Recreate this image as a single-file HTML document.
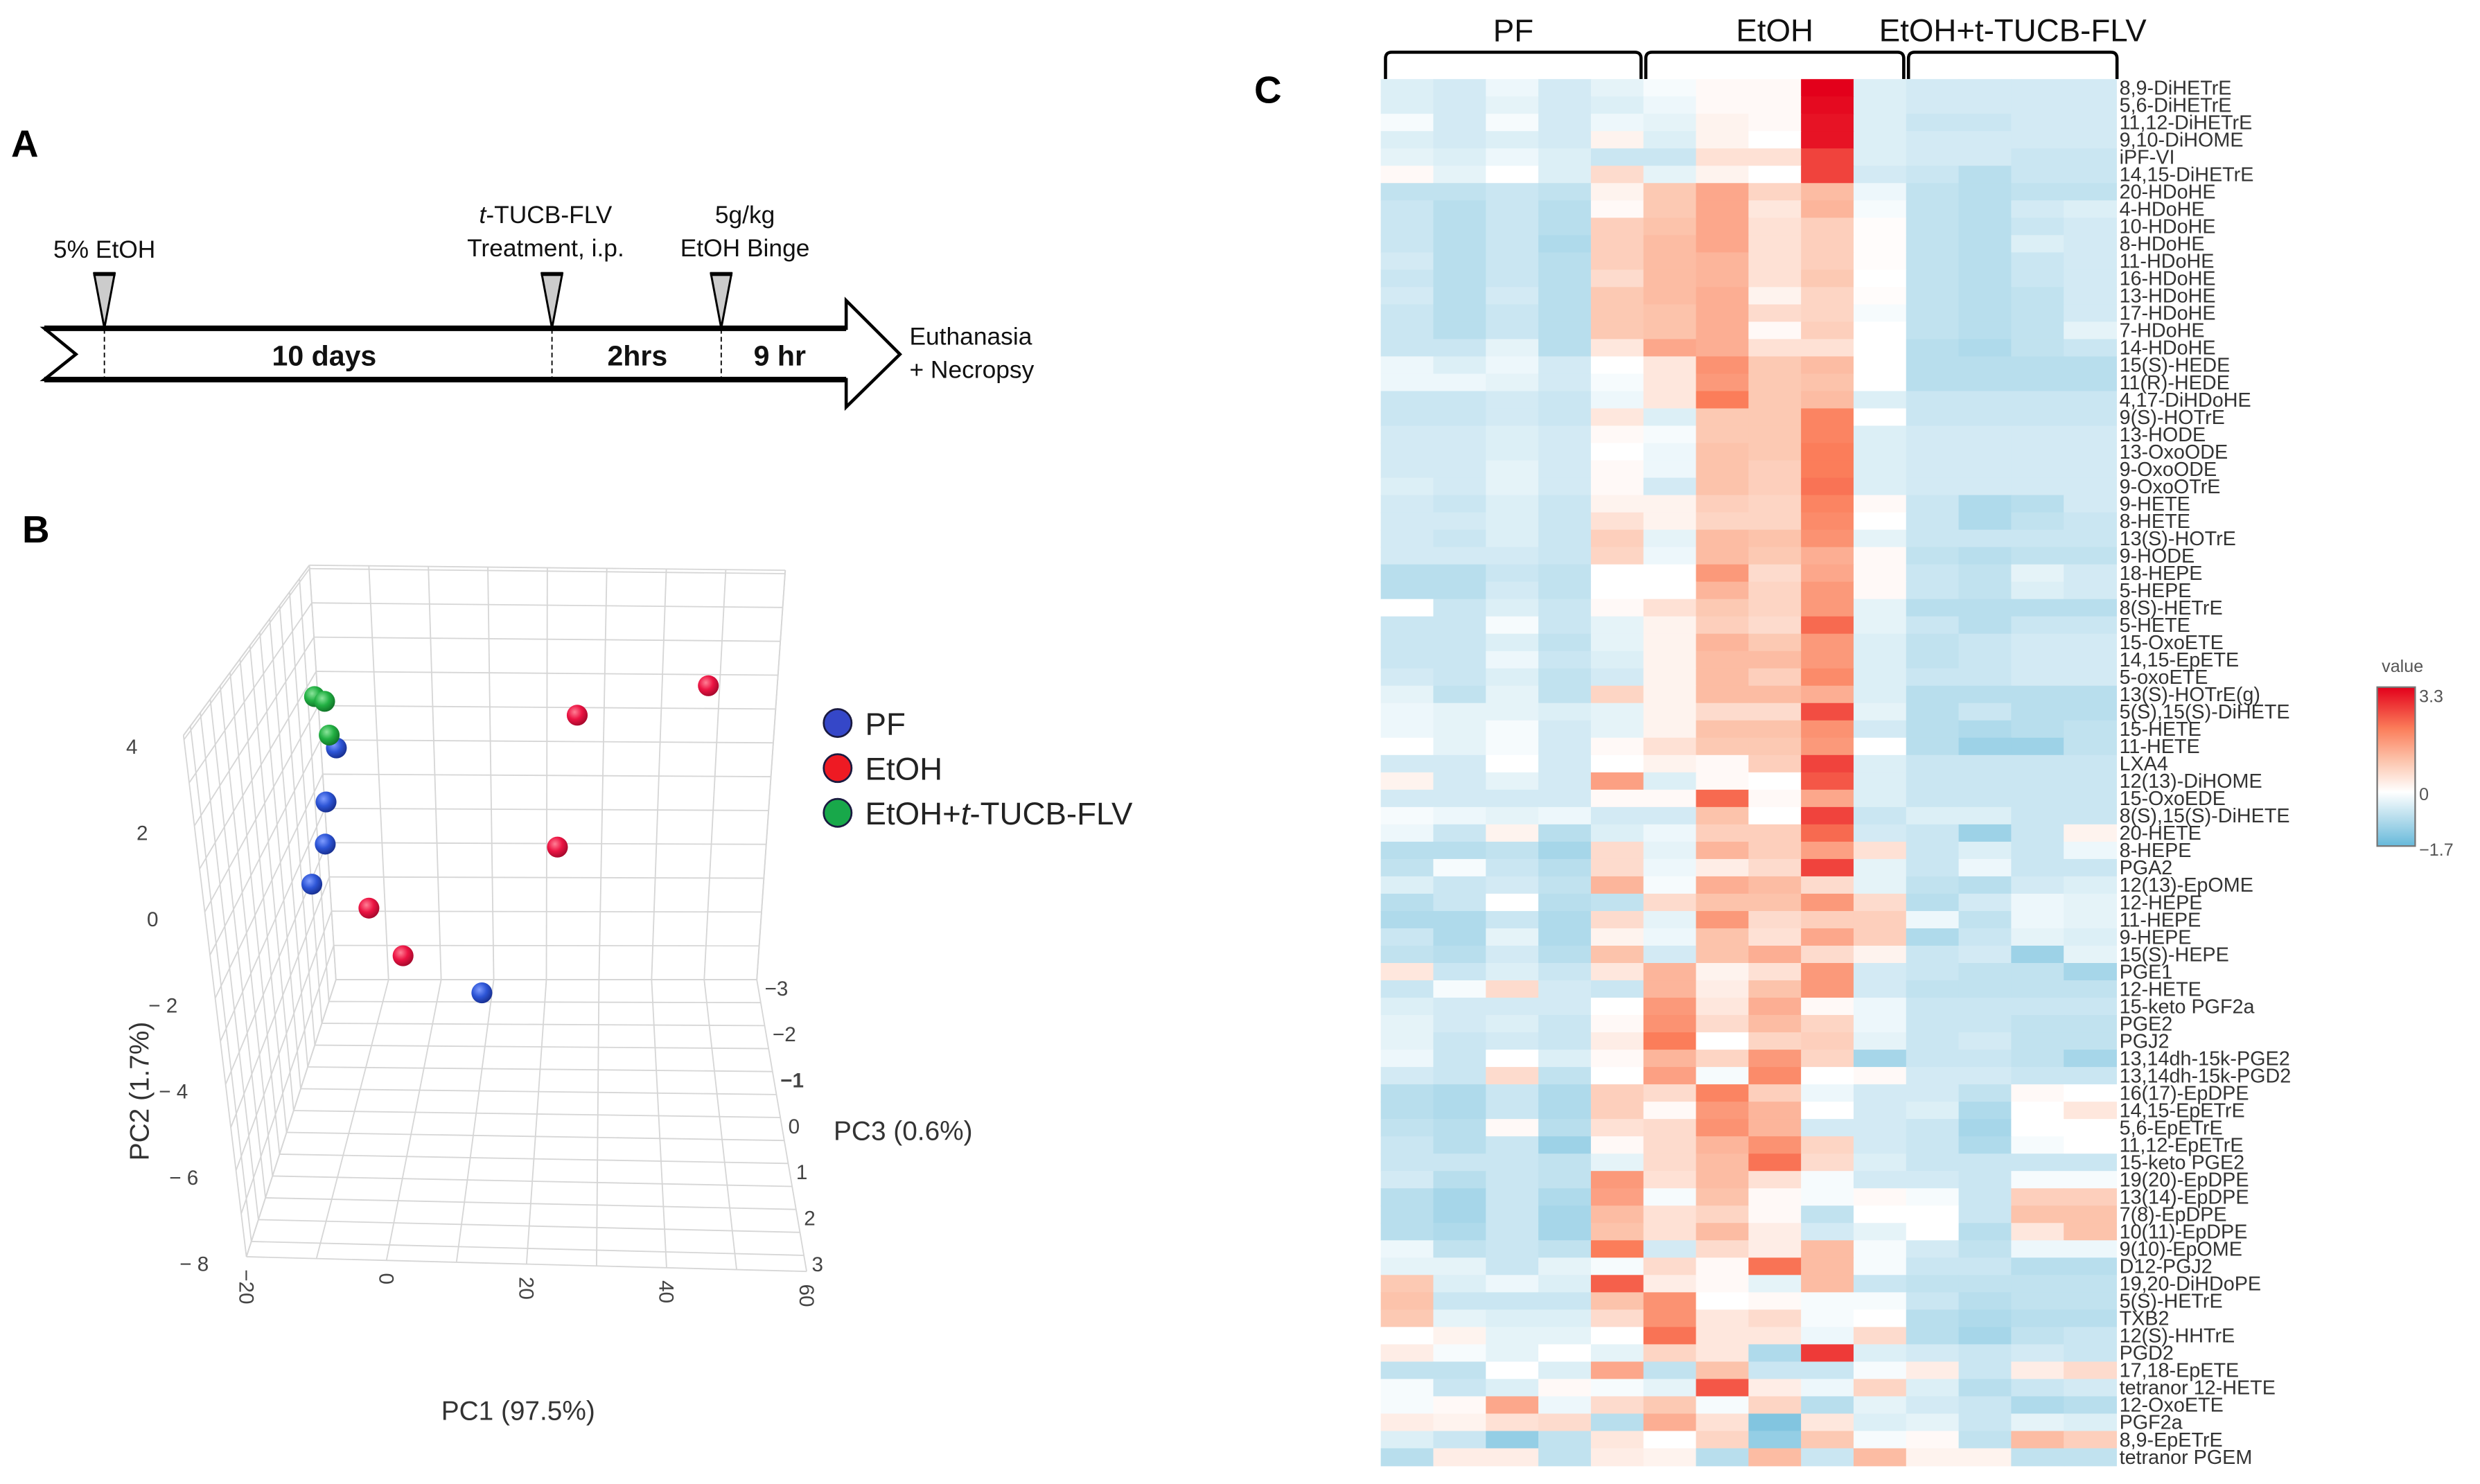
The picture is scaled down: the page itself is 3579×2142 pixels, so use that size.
<!DOCTYPE html>
<html><head><meta charset="utf-8"><style>
html,body{margin:0;padding:0;background:#fff;}
svg{display:block;}
.n{font-family:"Liberation Sans Narrow","Liberation Sans",sans-serif;}
.s{font-family:"Liberation Sans",sans-serif;}
</style></head><body>
<svg id="fig" width="3579" height="2142" viewBox="0 0 1568 938.4" xmlns="http://www.w3.org/2000/svg">
<defs>
<radialGradient id="gB" cx="0.38" cy="0.35" r="0.7"><stop offset="0" stop-color="#7f9cff"/><stop offset="0.5" stop-color="#2d55d6"/><stop offset="1" stop-color="#162c8a"/></radialGradient>
<radialGradient id="gR" cx="0.38" cy="0.35" r="0.7"><stop offset="0" stop-color="#ff7f95"/><stop offset="0.5" stop-color="#ec1443"/><stop offset="1" stop-color="#a0072a"/></radialGradient>
<radialGradient id="gG" cx="0.38" cy="0.35" r="0.7"><stop offset="0" stop-color="#8be59b"/><stop offset="0.5" stop-color="#22b043"/><stop offset="1" stop-color="#0f6e25"/></radialGradient>
<linearGradient id="cbar" x1="0" y1="1" x2="0" y2="0">
<stop offset="0" stop-color="#66b9da"/><stop offset="0.17" stop-color="#b4dcec"/><stop offset="0.34" stop-color="#ffffff"/><stop offset="0.54" stop-color="#fcc3ab"/><stop offset="0.74" stop-color="#fb7d5a"/><stop offset="1" stop-color="#e3001b"/>
</linearGradient>
</defs>

<!-- Panel A -->
<g>
<text x="7" y="99" class="s" font-size="24" font-weight="bold">A</text>
<path d="M28,207.6 L535,207.6 L535,190 L569,224 L535,257.4 L535,240 L28,240 L48,224 Z" fill="#fff" stroke="#000" stroke-width="2" stroke-linejoin="miter"/>
<line x1="28" y1="207.6" x2="535" y2="207.6" stroke="#000" stroke-width="3.5"/>
<line x1="28" y1="240" x2="535" y2="240" stroke="#000" stroke-width="3.5"/>
<g stroke="#000" stroke-width="0.8" stroke-dasharray="3,2">
<line x1="66" y1="208" x2="66" y2="240"/><line x1="349" y1="208" x2="349" y2="240"/><line x1="456" y1="208" x2="456" y2="240"/>
</g>
<g fill="#ccc" stroke="#000" stroke-width="1.3">
<path d="M59.5,173 L72.5,173 L66,207.5 Z"/><path d="M342.5,173 L355.5,173 L349,207.5 Z"/><path d="M449.5,173 L462.5,173 L456,207.5 Z"/>
</g>
<g fill="#000"><rect x="59" y="172" width="14" height="2.5"/><rect x="342" y="172" width="14" height="2.5"/><rect x="449" y="172" width="14" height="2.5"/></g>
<g class="n" font-size="15.5" fill="#111" text-anchor="middle">
<text x="66" y="163">5% EtOH</text>
<text x="345" y="141"><tspan font-style="italic">t</tspan>-TUCB-FLV</text>
<text x="345" y="162">Treatment, i.p.</text>
<text x="471" y="141">5g/kg</text>
<text x="471" y="162">EtOH Binge</text>
</g>
<g class="n" font-size="18" font-weight="bold" fill="#111" text-anchor="middle">
<text x="205" y="231">10 days</text>
<text x="403" y="231">2hrs</text>
<text x="493" y="231">9 hr</text>
</g>
<g class="n" font-size="15.5" fill="#111">
<text x="575" y="218">Euthanasia</text>
<text x="575" y="239">+ Necropsy</text>
</g>
</g>

<!-- Panel B -->
<g id="pca">
<text x="14" y="343" class="s" font-size="24" font-weight="bold">B</text>
<g id="grid3d"></g>
<g id="ticks3d" class="s" font-size="13" fill="#444"></g>
<g id="pts3d"></g>
<text x="327.6" y="898" class="s" font-size="17" fill="#333" text-anchor="middle">PC1 (97.5%)</text>
<text x="0" y="0" class="s" font-size="17" fill="#333" text-anchor="middle" transform="translate(94,690) rotate(-90)">PC2 (1.7%)</text>
<text x="571" y="721" class="s" font-size="17" fill="#333" text-anchor="middle">PC3 (0.6%)</text>
<g>
<g><circle cx="529.6" cy="457.2" r="8.8" fill="#3547c8" stroke="#1a1a40" stroke-width="1.2"/><text x="547" y="464.5" class="s" font-size="20" fill="#222">PF</text></g>
<g><circle cx="529.6" cy="485.7" r="8.8" fill="#ee1a23" stroke="#1a1a40" stroke-width="1.2"/><text x="547" y="493" class="s" font-size="20" fill="#222">EtOH</text></g>
<g><circle cx="529.6" cy="514" r="8.8" fill="#18a84a" stroke="#1a1a40" stroke-width="1.2"/><text x="547" y="521.3" class="s" font-size="20" fill="#222">EtOH+<tspan font-style="italic">t</tspan>-TUCB-FLV</text></g>
</g>
</g>

<!-- Panel C -->
<g id="heat">
<text x="793" y="65" class="s" font-size="24" font-weight="bold">C</text>
<g id="hmhead"></g>
<g id="hmcells"></g>
<g id="hmlabels" class="n" font-size="12.6" fill="#333"></g>
<g>
<text x="1519" y="425" class="s" font-size="11" fill="#555" text-anchor="middle">value</text>
<rect x="1503" y="434.5" width="24" height="100.5" fill="url(#cbar)" stroke="#777" stroke-width="1"/>
<text x="1529.5" y="444" class="s" font-size="11" fill="#555">3.3</text>
<text x="1529.5" y="506" class="s" font-size="11" fill="#555">0</text>
<text x="1529.5" y="541" class="s" font-size="11" fill="#555">−1.7</text>
</g>
</g>
</svg>
<script>
var NS='http://www.w3.org/2000/svg';
function mk(tag,attrs,parent){var e=document.createElementNS(NS,tag);for(var k in attrs)e.setAttribute(k,attrs[k]);parent.appendChild(e);return e;}

/* ---------- PCA data ---------- */
var pcaGroups=['PF','PF','PF','PF','PF','EtOH','EtOH','EtOH','EtOH','EtOH','EtOH+t-TUCB-FLV','EtOH+t-TUCB-FLV','EtOH+t-TUCB-FLV'];
var pc1Values=[-8.2,-10.3,-10.9,-13.4,11.8,45.5,26.8,23.8,-5.0,-0.2,-10.8,-9.4,-9.1];
var pc2Values=[1.62,0.22,-0.87,-1.91,-4.66,3.34,2.54,-0.87,-2.51,-3.73,2.94,2.82,1.95];
var pc3Values=[0.2,0.2,0.2,0.2,0.2,0.2,0.2,0.2,0.2,0.2,0.2,0.2,0.2];
var pc1Ticks=[-20,0,20,40,60];
var pc2Ticks=[4,2,0,-2,-4,-6,-8];
var pc3Ticks=[-3,-2,-1,0,1,2,3];

var PC1R=[-20,60],PC2R=[-8,4.1],PC3R=[-3,3.35];
var C={c000:[212.4,619.5],c100:[478.5,619.5],c010:[195.6,357.4],c110:[496.5,360.6],
       c001:[155.8,794.7],c101:[510,804],c011:[116,465],c111:[530,470]};
function lerp(a,b,t){return [a[0]+(b[0]-a[0])*t,a[1]+(b[1]-a[1])*t];}
function P(u,v,w){
  var b0=lerp(C.c000,C.c100,u),b1=lerp(C.c010,C.c110,u),f0=lerp(C.c001,C.c101,u),f1=lerp(C.c011,C.c111,u);
  return lerp(lerp(b0,b1,v),lerp(f0,f1,v),w);}
function su(x){return (x-PC1R[0])/(PC1R[1]-PC1R[0]);}
function sv(y){return (y-PC2R[0])/(PC2R[1]-PC2R[0]);}
function sw(z){return (z-PC3R[0])/(PC3R[1]-PC3R[0]);}

var grid=document.getElementById('grid3d');
function gl(a,b){var l=mk('line',{x1:a[0],y1:a[1],x2:b[0],y2:b[1],stroke:'#d6d6d6','stroke-width':0.8},grid);

}
var uL=[],vL=[],wL=[],k;
for(k=-20;k<=60;k+=10)uL.push(su(k));
for(k=-8;k<=4;k+=1)vL.push(sv(k));vL.push(1);
for(k=-3;k<=3.001;k+=0.5)wL.push(sw(k));wL.push(1);
uL.forEach(function(u){gl(P(u,0,0),P(u,1,0));gl(P(u,0,0),P(u,0,1));});
vL.forEach(function(v){gl(P(0,v,0),P(1,v,0));gl(P(0,v,0),P(0,v,1));});
wL.forEach(function(w){gl(P(0,0,w),P(1,0,w));gl(P(0,0,w),P(0,1,w));});
gl(P(1,0,0),P(1,1,0));gl(P(0,1,0),P(0,1,1));

var tk=document.getElementById('ticks3d');
pc1Ticks.forEach(function(t){var p=P(su(t),0,1);var e=mk('text',{x:0,y:0,transform:'translate('+(p[0]-4.5)+','+(p[1]+8)+') rotate(90)'},tk);e.textContent=String(t).replace('-','−');

});
pc2Ticks.forEach(function(t){var p=P(0,sv(t),1);var e=mk('text',{x:p[0]-33,y:p[1]+9,'text-anchor':'middle'},tk);e.textContent=String(t).replace('-','− ');

});
pc3Ticks.forEach(function(t){var p=P(1,0,sw(t));var e=mk('text',{x:p[0]+5,y:p[1]+10},tk);e.textContent=String(t).replace('-','−');
if(t===-1)e.setAttribute('font-weight','bold');

});

var pts=document.getElementById('pts3d');
var fills={'PF':'url(#gB)','EtOH':'url(#gR)','EtOH+t-TUCB-FLV':'url(#gG)'};
for(var i=0;i<pc1Values.length;i++){
  var p=P(su(pc1Values[i]),sv(pc2Values[i]),sw(pc3Values[i]));
  var c=mk('circle',{cx:p[0],cy:p[1],r:6.6,fill:fills[pcaGroups[i]]},pts);
  
  
}

/* ---------- Heatmap data ---------- */
var groupLabels=['PF','EtOH','EtOH+t-TUCB-FLV'];
var groupSizes=[5,5,4];
var rowLabels=['8,9-DiHETrE','5,6-DiHETrE','11,12-DiHETrE','9,10-DiHOME','iPF-VI','14,15-DiHETrE','20-HDoHE','4-HDoHE','10-HDoHE','8-HDoHE','11-HDoHE','16-HDoHE','13-HDoHE','17-HDoHE','7-HDoHE','14-HDoHE','15(S)-HEDE','11(R)-HEDE','4,17-DiHDoHE','9(S)-HOTrE','13-HODE','13-OxoODE','9-OxoODE','9-OxoOTrE','9-HETE','8-HETE','13(S)-HOTrE','9-HODE','18-HEPE','5-HEPE','8(S)-HETrE','5-HETE','15-OxoETE','14,15-EpETE','5-oxoETE','13(S)-HOTrE(g)','5(S),15(S)-DiHETE','15-HETE','11-HETE','LXA4','12(13)-DiHOME','15-OxoEDE','8(S),15(S)-DiHETE','20-HETE','8-HEPE','PGA2','12(13)-EpOME','12-HEPE','11-HEPE','9-HEPE','15(S)-HEPE','PGE1','12-HETE','15-keto PGF2a','PGE2','PGJ2','13,14dh-15k-PGE2','13,14dh-15k-PGD2','16(17)-EpDPE','14,15-EpETrE','5,6-EpETrE','11,12-EpETrE','15-keto PGE2','19(20)-EpDPE','13(14)-EpDPE','7(8)-EpDPE','10(11)-EpDPE','9(10)-EpOME','D12-PGJ2','19,20-DiHDoPE','5(S)-HETrE','TXB2','12(S)-HHTrE','PGD2','17,18-EpETE','tetranor 12-HETE','12-OxoETE','PGF2a','8,9-EpETrE','tetranor PGEM'];
var heatValues=[
[-0.4,-0.5,-0.2,-0.5,-0.3,-0.1,0.1,0.1,3.3,-0.4,-0.5,-0.5,-0.5,-0.5],
[-0.4,-0.5,-0.3,-0.5,-0.4,-0.2,0.1,0.1,3.2,-0.4,-0.5,-0.5,-0.5,-0.5],
[-0.1,-0.5,-0.1,-0.5,-0.2,-0.3,0.2,0.1,3.1,-0.4,-0.6,-0.6,-0.5,-0.5],
[-0.4,-0.5,-0.4,-0.5,0.2,-0.4,0.2,0.0,3.1,-0.4,-0.5,-0.5,-0.5,-0.5],
[-0.3,-0.4,-0.2,-0.4,-0.6,-0.6,0.5,0.5,2.6,-0.4,-0.5,-0.5,-0.6,-0.6],
[0.1,-0.3,0.0,-0.4,0.6,-0.3,0.2,0.0,2.6,-0.5,-0.6,-0.8,-0.6,-0.6],
[-0.7,-0.7,-0.6,-0.7,0.2,0.9,1.4,0.7,1.1,-0.2,-0.7,-0.8,-0.7,-0.7],
[-0.6,-0.8,-0.6,-0.8,0.1,0.9,1.4,0.4,1.2,-0.1,-0.7,-0.8,-0.5,-0.4],
[-0.6,-0.8,-0.6,-0.8,0.8,1.0,1.4,0.5,0.8,0.05,-0.7,-0.8,-0.6,-0.5],
[-0.6,-0.8,-0.6,-0.9,0.8,1.1,1.4,0.5,0.8,0.05,-0.7,-0.8,-0.4,-0.5],
[-0.5,-0.8,-0.6,-0.8,0.8,1.1,1.2,0.5,0.8,0.05,-0.7,-0.8,-0.6,-0.5],
[-0.6,-0.8,-0.6,-0.8,0.6,1.1,1.2,0.5,0.9,0.0,-0.7,-0.8,-0.6,-0.5],
[-0.5,-0.8,-0.5,-0.8,0.9,1.1,1.3,0.2,0.7,0.05,-0.7,-0.8,-0.7,-0.5],
[-0.6,-0.8,-0.6,-0.8,0.9,1.0,1.3,0.6,0.7,-0.1,-0.7,-0.8,-0.7,-0.5],
[-0.6,-0.8,-0.6,-0.8,0.9,1.0,1.3,0.1,0.8,0.0,-0.7,-0.8,-0.7,-0.3],
[-0.6,-0.6,-0.3,-0.8,0.4,1.4,1.3,0.5,0.5,0.0,-0.8,-0.9,-0.7,-0.6],
[-0.2,-0.4,-0.2,-0.5,0.0,0.4,1.7,0.9,1.1,0.0,-0.8,-0.8,-0.8,-0.8],
[-0.2,-0.2,-0.3,-0.5,-0.1,0.4,1.6,0.9,1.0,0.0,-0.8,-0.8,-0.8,-0.8],
[-0.6,-0.6,-0.5,-0.6,-0.2,0.4,2.0,0.9,1.1,-0.4,-0.6,-0.6,-0.6,-0.6],
[-0.6,-0.6,-0.5,-0.6,0.4,-0.4,0.9,0.9,1.9,0.0,-0.6,-0.6,-0.6,-0.6],
[-0.5,-0.5,-0.4,-0.5,0.1,-0.1,0.9,0.9,1.9,-0.4,-0.5,-0.5,-0.5,-0.5],
[-0.5,-0.5,-0.4,-0.5,0.0,-0.2,1.0,0.9,2.0,-0.4,-0.5,-0.5,-0.5,-0.5],
[-0.5,-0.5,-0.3,-0.5,0.1,-0.2,1.0,0.8,2.0,-0.4,-0.5,-0.5,-0.5,-0.5],
[-0.4,-0.5,-0.3,-0.5,0.1,-0.5,1.0,0.8,2.1,-0.4,-0.5,-0.5,-0.5,-0.5],
[-0.5,-0.6,-0.4,-0.6,0.2,0.2,0.8,0.7,1.9,0.1,-0.6,-0.9,-0.8,-0.5],
[-0.5,-0.5,-0.4,-0.6,0.5,0.2,0.7,0.7,1.8,0.0,-0.6,-0.9,-0.7,-0.6],
[-0.5,-0.6,-0.4,-0.6,0.8,-0.3,1.1,1.0,1.7,-0.3,-0.6,-0.6,-0.6,-0.6],
[-0.5,-0.5,-0.5,-0.6,0.7,-0.2,1.1,0.9,1.3,0.1,-0.7,-0.8,-0.7,-0.7],
[-0.8,-0.8,-0.6,-0.7,0.0,0.0,1.6,0.6,1.4,0.1,-0.6,-0.7,-0.3,-0.5],
[-0.8,-0.8,-0.5,-0.7,0.0,0.0,1.2,0.7,1.6,0.1,-0.6,-0.7,-0.4,-0.5],
[0.0,-0.6,-0.4,-0.6,0.1,0.5,0.9,0.7,1.6,-0.3,-0.8,-0.8,-0.8,-0.8],
[-0.6,-0.6,-0.1,-0.6,-0.3,0.2,0.8,0.6,2.2,-0.3,-0.6,-0.8,-0.6,-0.6],
[-0.6,-0.6,-0.4,-0.7,-0.3,0.2,1.2,0.9,1.6,-0.4,-0.7,-0.6,-0.5,-0.5],
[-0.6,-0.6,-0.2,-0.6,-0.4,0.2,1.1,1.1,1.6,-0.4,-0.7,-0.6,-0.5,-0.5],
[-0.5,-0.6,-0.4,-0.7,-0.5,0.2,1.1,0.8,1.8,-0.4,-0.6,-0.6,-0.5,-0.5],
[-0.3,-0.7,-0.3,-0.7,0.7,0.2,1.1,1.1,1.3,-0.4,-0.8,-0.8,-0.8,-0.8],
[-0.2,-0.3,-0.3,-0.4,-0.3,0.2,0.6,0.6,2.5,-0.3,-0.8,-0.6,-0.8,-0.8],
[-0.2,-0.3,-0.1,-0.5,-0.3,0.2,1.0,1.0,1.7,-0.5,-0.8,-0.9,-0.8,-0.7],
[0.0,-0.3,-0.1,-0.5,0.1,0.5,0.9,0.9,1.6,0.0,-0.8,-1.1,-1.1,-0.7],
[-0.5,-0.5,0.0,-0.5,0.0,0.2,0.1,0.8,2.6,-0.4,-0.6,-0.6,-0.6,-0.6],
[0.2,-0.5,-0.3,-0.5,1.5,-0.4,0.1,0.0,2.4,-0.4,-0.6,-0.6,-0.6,-0.6],
[-0.5,-0.5,-0.5,-0.5,0.1,0.1,2.2,0.1,1.4,-0.4,-0.6,-0.6,-0.6,-0.6],
[-0.1,-0.2,-0.3,-0.2,-0.5,-0.5,1.0,0.0,2.6,-0.6,-0.4,-0.4,-0.6,-0.6],
[-0.2,-0.6,0.2,-0.8,-0.4,-0.2,0.8,0.8,2.2,-0.5,-0.6,-1.1,-0.6,0.2],
[-0.8,-0.8,-0.7,-1.0,0.6,-0.3,1.2,0.8,1.5,0.5,-0.6,-0.4,-0.6,-0.2],
[-0.7,-0.1,-0.6,-0.8,0.6,-0.2,0.3,0.6,2.6,-0.3,-0.6,-0.2,-0.6,-0.6],
[-0.4,-0.6,-0.5,-0.7,1.2,-0.1,1.3,1.1,0.6,-0.3,-0.7,-0.8,-0.5,-0.4],
[-0.8,-0.6,0.0,-0.8,-0.7,0.6,1.0,1.0,1.6,0.6,-0.8,-0.5,-0.2,-0.3],
[-0.9,-0.9,-0.6,-0.9,0.6,-0.3,1.6,0.6,0.8,0.8,-0.2,-0.7,-0.2,-0.3],
[-0.6,-0.9,-0.3,-0.9,0.2,-0.2,1.0,0.5,1.4,0.8,-0.9,-0.6,-0.3,-0.4],
[-0.7,-0.8,-0.5,-0.8,1.0,-0.5,1.0,1.3,0.6,0.2,-0.6,-0.5,-1.1,-0.3],
[0.4,-0.6,-0.4,-0.6,0.4,1.2,0.2,0.5,1.6,-0.5,-0.6,-0.7,-0.7,-1.0],
[-0.6,-0.1,0.6,-0.5,-0.6,1.2,0.3,1.0,1.6,-0.5,-0.7,-0.7,-0.7,-0.7],
[-0.4,-0.5,-0.5,-0.5,0.0,1.6,0.4,1.3,0.1,-0.2,-0.6,-0.6,-0.6,-0.6],
[-0.3,-0.5,-0.4,-0.6,0.1,1.7,0.6,1.1,0.7,-0.2,-0.6,-0.6,-0.7,-0.7],
[-0.3,-0.6,-0.5,-0.6,0.3,2.0,0.0,0.7,0.8,-0.3,-0.6,-0.5,-0.7,-0.7],
[-0.2,-0.6,0.0,-0.4,0.1,1.2,0.7,1.6,0.7,-1.0,-0.6,-0.6,-0.7,-1.0],
[-0.5,-0.6,0.6,-0.7,0.0,1.5,-0.1,1.8,0.0,0.1,-0.5,-0.5,-0.6,-0.6],
[-0.8,-0.9,-0.6,-0.9,0.8,0.6,1.9,0.8,-0.2,-0.5,-0.5,-0.7,0.1,0.0],
[-0.8,-0.9,-0.6,-0.9,0.8,0.1,1.6,1.2,0.0,-0.5,-0.4,-0.9,0.0,0.4],
[-0.7,-0.8,0.1,-0.8,0.5,0.6,1.7,1.2,-0.5,-0.5,-0.6,-1.0,0.0,0.0],
[-0.6,-0.8,-0.6,-1.1,0.1,0.6,1.2,1.7,0.7,-0.5,-0.6,-0.9,-0.1,0.0],
[-0.6,-0.6,-0.6,-0.7,-0.3,0.6,1.1,2.1,0.6,-0.4,-0.6,-0.6,-0.6,-0.6],
[-0.5,-0.8,-0.6,-0.7,1.6,0.5,1.1,0.5,-0.1,-0.5,-0.5,-0.6,-0.1,-0.1],
[-0.8,-1.0,-0.6,-0.9,1.5,-0.1,1.0,0.1,-0.1,0.1,-0.1,-0.6,0.8,0.8],
[-0.8,-1.0,-0.6,-1.0,1.1,0.5,0.7,0.1,-0.7,0.0,0.0,-0.6,1.0,1.0],
[-0.8,-0.9,-0.6,-1.0,1.0,0.5,1.1,0.3,-0.5,-0.3,0.0,-0.8,0.4,1.0],
[-0.2,-0.7,-0.6,-0.7,2.0,-0.5,0.6,0.3,1.1,-0.1,-0.5,-0.7,-0.2,-0.2],
[-0.3,-0.3,-0.6,-0.3,-0.1,0.6,0.1,2.1,1.1,-0.1,-0.6,-0.6,-0.8,-0.8],
[0.9,-0.4,-0.2,-0.4,2.3,0.3,0.1,-0.3,1.1,-0.6,-0.7,-0.7,-0.7,-0.7],
[1.0,-0.6,-0.6,-0.6,1.0,1.7,0.0,0.1,-0.1,-0.1,-0.6,-0.8,-0.7,-0.7],
[0.9,-0.3,-0.4,-0.4,0.6,1.7,0.4,0.6,-0.1,0.0,-0.8,-0.9,-0.8,-0.8],
[0.0,0.2,-0.3,-0.3,0.0,2.1,0.4,0.4,-0.2,0.6,-0.8,-1.0,-0.7,-0.6],
[0.3,-0.1,-0.3,0.0,-0.3,0.7,0.4,-0.9,2.7,-0.4,-0.5,-0.6,-0.5,-0.6],
[-0.7,-0.7,0.0,-0.4,1.4,-0.7,1.0,-0.6,-0.6,-0.1,0.3,-0.6,0.3,0.6],
[-0.1,-0.6,-0.4,0.1,-0.1,-0.3,2.4,0.3,-0.2,0.7,-0.4,-0.8,-0.6,-0.5],
[-0.1,0.1,1.4,-0.2,0.6,0.9,-0.1,0.7,-0.8,-0.3,-0.5,-0.6,-0.9,-0.8],
[0.3,0.2,0.5,0.6,-0.8,1.3,0.5,-1.4,0.4,-0.4,-0.3,-0.6,-0.3,-0.4],
[-0.4,-0.6,-1.2,-0.7,0.4,0.0,0.7,-1.2,0.9,-0.1,0.1,-0.7,1.1,0.8],
[-0.8,0.3,0.3,-0.7,0.3,0.2,-0.8,1.1,-0.6,1.1,0.2,0.2,-0.7,-0.7]
];
var colorStops=[[-1.7,[102,185,218]],[-0.85,[180,220,236]],[0,[255,255,255]],[1.0,[252,195,171]],[2.0,[251,125,90]],[3.3,[227,0,27]]];
function colorOf(v){
  if(v<=colorStops[0][0])return 'rgb('+colorStops[0][1].join(',')+')';
  for(var i=1;i<colorStops.length;i++){
    if(v<=colorStops[i][0]){var a=colorStops[i-1],b=colorStops[i],t=(v-a[0])/(b[0]-a[0]);
      return 'rgb('+[0,1,2].map(function(j){return Math.round(a[1][j]+(b[1][j]-a[1][j])*t);}).join(',')+')';}
  }
  return 'rgb('+colorStops[colorStops.length-1][1].join(',')+')';
}
var HX0=873,HX1=1338,HY0=50,HY1=926.8;
var nCols=heatValues[0].length,nRows=heatValues.length;
var cw=(HX1-HX0)/nCols,rh=(HY1-HY0)/nRows;
function xCol(c){return HX0+c*cw;}
function yRow(r){return HY0+r*rh;}
var cells=document.getElementById('hmcells');
for(var r=0;r<nRows;r++){for(var c2=0;c2<nCols;c2++){
  var rc=mk('rect',{x:xCol(c2).toFixed(2),y:yRow(r).toFixed(2),width:(cw+0.4).toFixed(2),height:(rh+0.4).toFixed(2),fill:colorOf(heatValues[r][c2])},cells);
  
  
}}
var lab=document.getElementById('hmlabels');
rowLabels.forEach(function(t,r){var e=mk('text',{x:HX1+2,y:(yRow(r)+rh/2+4.3).toFixed(2)},lab);e.textContent=t;

});
var head=document.getElementById('hmhead');
var start=0;
groupLabels.forEach(function(g,gi){
  var x1=xCol(start)+3,x2=xCol(start+groupSizes[gi])-(gi<groupLabels.length-1?1.5:-0.5);
  if(gi>0)x1=xCol(start)+1.5;
  var pth=mk('path',{d:'M'+x1+',50 L'+x1+',37 Q'+x1+',33 '+(x1+4)+',33 L'+(x2-4)+',33 Q'+x2+',33 '+x2+',37 L'+x2+',50',fill:'none',stroke:'#000','stroke-width':2},head);
  
  
  var tx=mk('text',{x:((x1+x2)/2).toFixed(1),y:26,'text-anchor':'middle','class':'n','font-size':20,fill:'#111'},head);
  tx.textContent=g;
  
  
  start+=groupSizes[gi];
});
</script>
</body></html>
